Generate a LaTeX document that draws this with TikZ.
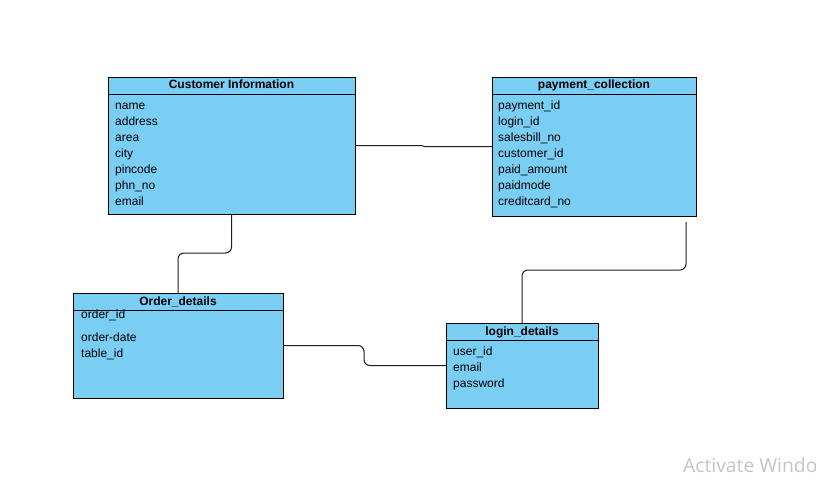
\documentclass[tikz,border=0pt]{standalone}
\usepackage{fontspec}
\setmainfont{Liberation Sans}
\newfontfamily\wmfont{Open Sans}
\usetikzlibrary{calc}
\definecolor{entfill}{RGB}{122,206,244}
\definecolor{connclr}{RGB}{30,30,30}
\definecolor{wmgray}{RGB}{196,196,196}
\begin{document}
\begin{tikzpicture}[x=1pt,y=-1pt,
  entity/.style={draw=black, fill=entfill, line width=1pt, anchor=north west,
                 inner sep=0pt, outer sep=0pt},
  hdr/.style={anchor=base, inner sep=0pt, font=\fontsize{12}{14}\selectfont\bfseries},
  field/.style={anchor=base west, inner sep=0pt, font=\fontsize{12}{14}\selectfont},
  conn/.style={draw=connclr, line width=1pt, rounded corners=6pt}]
\useasboundingbox (0,0) rectangle (816,480);
\fill[white] (0,0) rectangle (816,480);

% ---- Customer Information
\node[entity, minimum width=247pt, minimum height=137pt] (cust) at (108,77) {};
\draw[line width=1pt] ([yshift=-17pt]cust.north west) -- ([yshift=-17pt]cust.north east);
\node[hdr] (custh) at (231.5,88) {Customer Information};
\foreach \t [count=\i] in {name,address,area,city,pincode,phn\_no,email}
  \node[field] (cf\i) at (115,93.5+16*\i) {\t};

% ---- payment_collection
\node[entity, minimum width=204pt, minimum height=139pt] (pay) at (492,77) {};
\draw[line width=1pt] ([yshift=-17pt]pay.north west) -- ([yshift=-17pt]pay.north east);
\node[hdr] (payh) at (594,88) {payment\_collection};
\foreach \t [count=\i] in {payment\_id,login\_id,salesbill\_no,customer\_id,paid\_amount,paidmode,creditcard\_no}
  \node[field] (pf\i) at (498,93.5+16*\i) {\t};

% ---- Order_details
\node[entity, minimum width=210pt, minimum height=105pt] (ord) at (73,293) {};
\draw[line width=1pt] ([yshift=-17pt]ord.north west) -- ([yshift=-17pt]ord.north east);
\node[hdr] (ordh) at (178,305) {Order\_details};
\node[field] (of1) at (81,318) {order\_id};
\node[field] (of2) at (81,341.5) {order-date};
\node[field] (of3) at (81,357.5) {table\_id};

% ---- login_details
\node[entity, minimum width=152pt, minimum height=85pt] (login) at (446,323) {};
\draw[line width=1pt] ([yshift=-17pt]login.north west) -- ([yshift=-17pt]login.north east);
\node[hdr] (loginh) at (522,335) {login\_details};
\node[field] (lf1) at (453,355.5) {user\_id};
\node[field] (lf2) at (453,371.5) {email};
\node[field] (lf3) at (453,387.5) {password};

% ---- connectors
\draw[conn, rounded corners=1pt] (cust.east) -- (422,145.5) -- (424,146.5) -- (pay.west);
\draw[conn] (cust.south) -- ++(0,39) -| (ord.north);
\draw[conn] (ord.east) -- ++(81,0) |- (login.west);
\coordinate (pstart) at (686,222);
\draw[conn] (pstart) -- (686,270) -| (login.north);

% ---- watermark
\node[anchor=base west, inner sep=0pt, text=wmgray,
      font=\wmfont\fontsize{19.3}{22}\selectfont] (wm) at (683,472) {Activate Windo};
\end{tikzpicture}
\end{document}
